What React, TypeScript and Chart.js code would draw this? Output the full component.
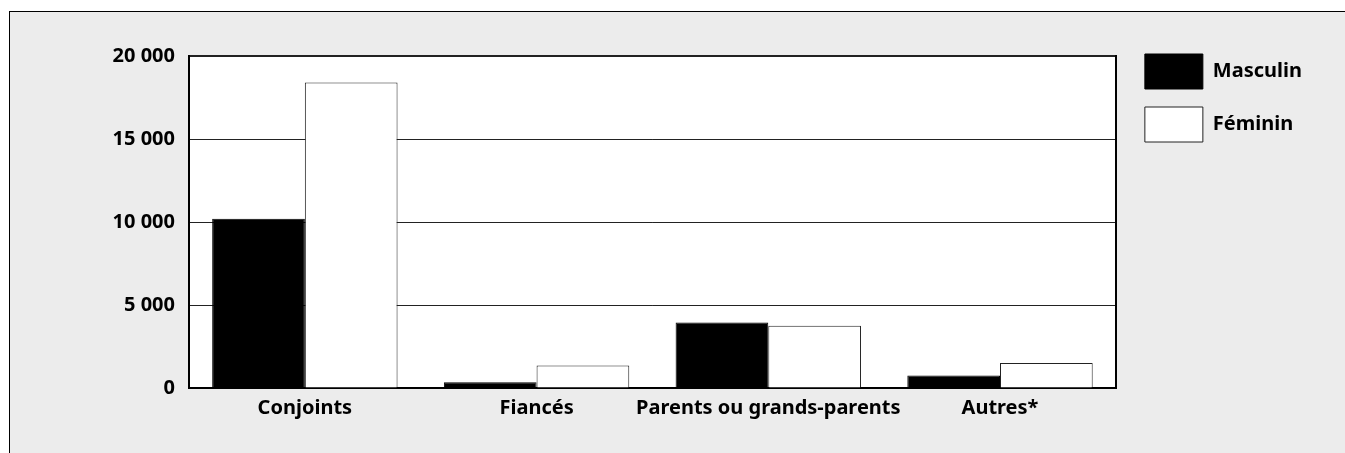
import React, { useEffect, useRef } from "react";
import { Chart, registerables } from "chart.js";

Chart.register(...registerables);

const categories = ["Conjoints", "Fiancés", "Parents ou grands-parents", "Autres*"];
const seriesLabels = ["Masculin", "Féminin"];
const masculin = [10200, 350, 3950, 750];
const feminin = [18400, 1350, 3750, 1500];
const yMax = 20000;
const yStep = 5000;
const yTickLabels: Record<number, string> = {
  0: "0",
  5000: "5 000",
  10000: "10 000",
  15000: "15 000",
  20000: "20 000",
};

const W = 1345;
const H = 453;
const FONT = { family: "'Noto Sans', sans-serif", weight: "bold" as const, size: 20 };

const plotBg = {
  id: "plotBg",
  beforeDraw(chart: any) {
    const { ctx, chartArea } = chart;
    ctx.save();
    ctx.fillStyle = "#ffffff";
    ctx.fillRect(chartArea.left, chartArea.top, chartArea.width, chartArea.height);
    ctx.restore();
  },
};

export default function App() {
  const ref = useRef<HTMLCanvasElement | null>(null);

  useEffect(() => {
    if (!ref.current) return;
    const chart = new Chart(ref.current, {
      type: "bar",
      data: {
        labels: categories,
        datasets: [
          {
            label: seriesLabels[0],
            data: masculin,
            backgroundColor: "#000000",
            borderColor: "#000000",
            borderWidth: 1,
            yAxisID: "y",
          },
          {
            label: seriesLabels[1],
            data: feminin,
            backgroundColor: "#ffffff",
            borderColor: "#222222",
            borderWidth: 1,
            yAxisID: "y",
          },
        ],
      },
      options: {
        responsive: false,
        animation: false,
        devicePixelRatio: 1,
        layout: { padding: { top: 36, right: 33, bottom: 25, left: 0 } },
        datasets: { bar: { categoryPercentage: 0.8, barPercentage: 1.0 } },
        plugins: {
          tooltip: { enabled: false },
          legend: {
            position: "right",
            align: "start",
            labels: {
              boxWidth: 58,
              boxHeight: 35,
              padding: 18,
              color: "#000",
              font: FONT,
            },
          },
        },
        scales: {
          x: {
            grid: { display: false, drawTicks: false },
            border: { display: true, color: "#000", width: 2 },
            ticks: { color: "#000", font: FONT, padding: 8, maxRotation: 0, autoSkip: false },
            afterFit: (s: any) => {
              s.height = 40;
            },
          },
          xTop: {
            type: "category",
            position: "top",
            display: true,
            grid: { display: false, drawTicks: false },
            ticks: { display: false },
            border: { display: false },
            afterFit: (s: any) => {
              s.height = 20;
            },
          },
          y: {
            min: 0,
            max: yMax,
            ticks: {
              stepSize: yStep,
              color: "#000",
              font: FONT,
              padding: 14,
              callback: (v: any) => yTickLabels[v as number] ?? String(v),
            },
            grid: {
              color: "#222",
              lineWidth: (c: any) => (c.tick && c.tick.value === yMax ? 2 : 1),
              drawTicks: false,
            },
            border: { display: true, color: "#000", width: 2 },
            afterFit: (s: any) => {
              s.width = 189;
            },
          },
          y2: {
            type: "linear",
            position: "right",
            display: true,
            min: 0,
            max: yMax,
            grid: { display: false, drawTicks: false },
            ticks: { display: false },
            border: { display: true, color: "#000", width: 2 },
            afterFit: (s: any) => {
              s.width = 11;
            },
          },
        },
      },
      plugins: [plotBg],
    });
    return () => chart.destroy();
  }, []);

  return (
    <div style={{ position: "absolute", left: 0, top: 0, width: W, height: H, overflow: "hidden", background: "#fff" }}>
      <div
        style={{
          position: "absolute",
          left: 9,
          top: 11,
          width: W,
          height: H,
          background: "#ececec",
          borderLeft: "1px solid #000",
          borderTop: "1px solid #000",
        }}
      />
      <canvas ref={ref} width={W} height={H} style={{ position: "absolute", left: 0, top: 0, display: "block" }} />
    </div>
  );
}
